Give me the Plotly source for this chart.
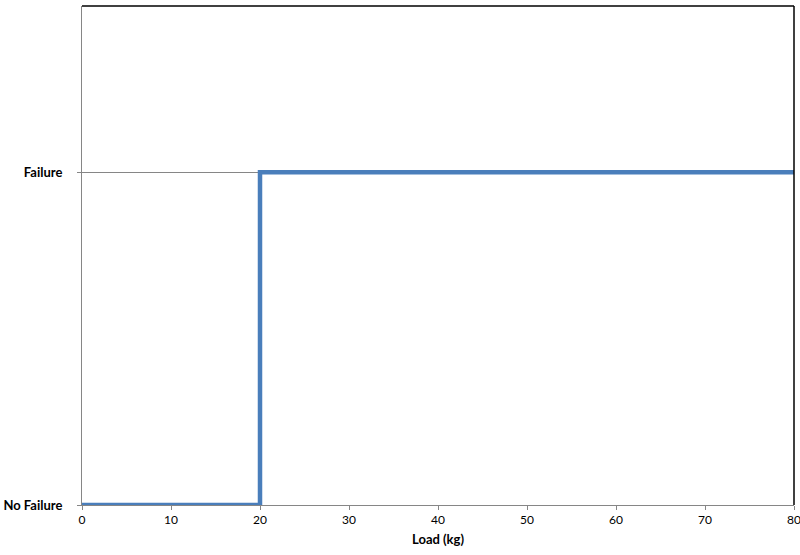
import plotly.graph_objects as go

load_kg = [0, 20, 80]
state = [0, 1, 1]
y_tick_vals = [0, 1]
y_tick_text = ["<b>No Failure</b>", "<b>Failure</b>"]
x_tick_vals = [0, 10, 20, 30, 40, 50, 60, 70, 80]

fig = go.Figure()
fig.add_trace(go.Scatter(
    x=load_kg, y=state, mode="lines", line_shape="hv",
    line=dict(color="#4a7ebb", width=4.5), showlegend=False, cliponaxis=False,
))

fig.update_layout(
    width=800, height=555,
    margin=dict(l=82, r=6, t=6, b=50, autoexpand=False),
    paper_bgcolor="white", plot_bgcolor="white",
    font=dict(family="Lato, Open Sans, sans-serif", size=12, color="black"),
    xaxis=dict(
        range=[0, 80], tickvals=x_tick_vals, showgrid=False,
        showline=True, linecolor="#868686", linewidth=1,
        ticks="outside", ticklen=4, tickcolor="#868686",
        tickfont=dict(size=12), automargin=False, ticklabeloverflow="allow",
        title=dict(text="<b>Load (kg)</b>", font=dict(size=13), standoff=8),
        zeroline=False,
    ),
    yaxis=dict(
        range=[0, 1.5], tickvals=y_tick_vals, ticktext=y_tick_text,
        showgrid=True, gridcolor="#868686", gridwidth=1,
        showline=True, linecolor="#868686", linewidth=1,
        ticks="outside", ticklen=4, tickcolor="#868686",
        tickfont=dict(size=13), ticklabelstandoff=12, automargin=False,
        zeroline=False,
    ),
    shapes=[
        dict(type="line", xref="paper", yref="paper", x0=0, x1=1, y0=1, y1=1,
             line=dict(color="black", width=1.5)),
        dict(type="line", xref="paper", yref="paper", x0=1, x1=1, y0=0, y1=1,
             line=dict(color="black", width=1.5)),
    ],
)

fig.write_html(
    "out.html",
    config={"displayModeBar": False},
    post_script="document.body.style.margin='0';document.body.style.overflow='hidden';",
)
